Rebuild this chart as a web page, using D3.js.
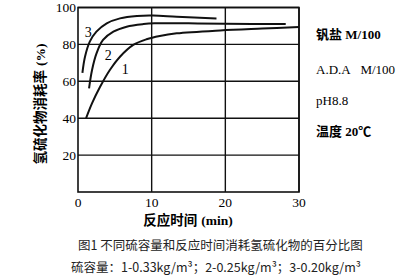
<!DOCTYPE html>
<html>
<head>
<meta charset="utf-8">
<script src="https://cdn.jsdelivr.net/npm/d3@7"></script>
<style>
  body { margin: 0; background: #fff; }
  svg { display: block; }
  .num { font-family: "Liberation Serif", "DejaVu Serif", serif; }
  .cjk { font-family: "Noto Sans CJK SC", sans-serif; }
</style>
</head>
<body>
<svg id="chart" width="420" height="278"></svg>
<script>
// data: reaction time (min) vs. consumption (%)
var curve1 = [[1.1, 40], [1.9, 48], [3.0, 57], [4.3, 66], [5.7, 73.3], [7.5, 79.7], [9.3, 82.8],
  [11.1, 84.6], [13.4, 86], [19.3, 87.6], [25, 88.6], [30, 89.4]];
var curve2 = [[1.5, 56.2], [1.9, 66], [2.5, 75], [3.4, 82.4], [4.8, 86.9], [6.6, 89.6], [8.9, 91],
  [10.4, 91.4], [15, 91.4], [20, 91.2], [28.2, 91]];
var curve3 = [[0.6, 64.6], [0.95, 73.3], [1.6, 81.5], [2.5, 86.9], [3.9, 91.4], [5.7, 94.1], [8, 95.4],
  [10.2, 95.6], [13.4, 95], [18.8, 94.1]];
var curveNames = ["1", "2", "3"];
var nameSpots = [[6.4, 66.5], [4.1, 74.5], [1.4, 86.5]];
var xTicks = [0, 10, 20, 30];
var yTicks = [20, 40, 60, 80, 100];
var notes = ["钒盐 M/100", "A.D.A\u00a0\u00a0\u00a0M/100", "pH8.8", "温度 20℃"];

var svg = d3.select("#chart");

var x = d3.scaleLinear().domain([0, 30]).range([78, 299]);
var y = d3.scaleLinear().domain([0, 100]).range([192, 7.5]);

// grid + frame
svg.append("g").selectAll("line")
    .data(yTicks)
    .enter().append("line")
    .attr("x1", x(0)).attr("x2", x(30))
    .attr("y1", d => y(d)).attr("y2", d => y(d))
    .attr("stroke", "#111").attr("stroke-width", 1.4);

svg.append("g").selectAll("line")
    .data(xTicks.slice(1))
    .enter().append("line")
    .attr("x1", d => x(d)).attr("x2", d => x(d))
    .attr("y1", y(0)).attr("y2", y(100))
    .attr("stroke", "#111").attr("stroke-width", 1.4);

svg.append("rect")
    .attr("x", x(0)).attr("y", y(100))
    .attr("width", x(30) - x(0)).attr("height", y(0) - y(100))
    .attr("fill", "none").attr("stroke", "#111").attr("stroke-width", 1.6);

// tick labels
svg.append("g").selectAll("text")
    .data(yTicks)
    .enter().append("text")
    .attr("class", "num")
    .attr("x", x(0) - 2).attr("y", d => y(d) + 4.5)
    .attr("text-anchor", "end")
    .style("font-size", "13.5px")
    .text(d => d);

svg.append("g").selectAll("text")
    .data(xTicks)
    .enter().append("text")
    .attr("class", "num")
    .attr("x", d => x(d)).attr("y", y(0) + 15)
    .attr("text-anchor", "middle")
    .style("font-size", "13.5px")
    .text(d => d);

// axis titles
svg.append("text")
    .attr("x", 188).attr("y", 225)
    .attr("text-anchor", "middle")
    .style("font-size", "13.5px").style("font-weight", "bold")
    .html('<tspan class="cjk">反应时间</tspan><tspan class="num" dx="4">(min)</tspan>');

svg.append("text")
    .attr("transform", "translate(45,104) rotate(-90)")
    .attr("text-anchor", "middle")
    .style("font-size", "13.5px").style("font-weight", "bold")
    .html('<tspan class="cjk">氢硫化物消耗率</tspan><tspan class="num" dx="4">(%)</tspan>');

// curves
var line = d3.line()
    .x(d => x(d[0]))
    .y(d => y(d[1]))
    .curve(d3.curveCatmullRom.alpha(0.5));

svg.append("g").selectAll("path")
    .data([curve1, curve2, curve3])
    .enter().append("path")
    .attr("d", line)
    .attr("fill", "none")
    .attr("stroke", "#111")
    .attr("stroke-width", 2);

svg.append("g").selectAll("text")
    .data(curveNames)
    .enter().append("text")
    .attr("class", "num")
    .attr("x", (d, i) => x(nameSpots[i][0]))
    .attr("y", (d, i) => y(nameSpots[i][1]) + 5)
    .attr("text-anchor", "middle")
    .style("font-size", "14px")
    .text(d => d);

// conditions on the right
svg.append("g").selectAll("text")
    .data(notes)
    .enter().append("text")
    .attr("x", 316)
    .attr("y", (d, i) => [39, 74, 105, 136][i])
    .style("font-size", "13px")
    .style("font-family", "'Liberation Serif', 'Noto Sans CJK SC', serif")
    .style("font-weight", (d, i) => i == 0 || i == 3 ? "bold" : "normal")
    .text(d => d);

// caption
svg.append("text")
    .attr("class", "cjk")
    .attr("x", 78).attr("y", 250)
    .style("font-size", "12.5px")
    .attr("fill", "#222")
    .text("图1 不同硫容量和反应时间消耗氢硫化物的百分比图");

svg.append("text")
    .attr("class", "cjk")
    .attr("x", 71).attr("y", 272)
    .style("font-size", "12.5px")
    .attr("fill", "#222")
    .text("硫容量：1-0.33kg/m³；2-0.25kg/m³；3-0.20kg/m³");
</script>
</body>
</html>
